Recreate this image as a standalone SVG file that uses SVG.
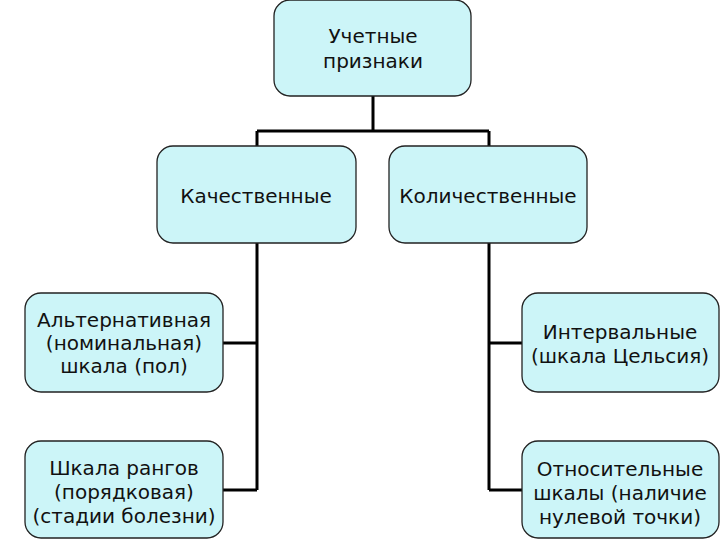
<svg xmlns="http://www.w3.org/2000/svg" width="720" height="540" viewBox="0 0 720 540">
<style>
.box{fill:#ccf5f8;stroke:#222;stroke-width:1.3}
.lbl{font-family:"DejaVu Sans",Verdana,sans-serif;font-size:20px;fill:#111;text-anchor:middle}
.con{fill:none;stroke:#000;stroke-width:3}
</style>
<rect width="720" height="540" fill="#fff"/>
<g id="connectors">
<path class="con" d="M373 96V131M257 131H489M257 131V146M489 131V146"/>
<path class="con" d="M257 243V490M222 343H257M222 490H257"/>
<path class="con" d="M489 243V490M489 343H522M489 490H522"/>
</g>
<g id="n-root">
<rect class="box" x="274" y="0" width="197" height="96" rx="16"/>
<text class="lbl" x="373" y="43">Учетные</text>
<text class="lbl" x="373" y="68">признаки</text>
</g>
<g id="n-qual">
<rect class="box" x="157" y="146" width="199" height="97" rx="16"/>
<text class="lbl" x="256" y="203">Качественные</text>
</g>
<g id="n-quant">
<rect class="box" x="389" y="146" width="198" height="97" rx="16"/>
<text class="lbl" x="488" y="203">Количественные</text>
</g>
<g id="n-alt">
<rect class="box" x="25" y="293" width="198" height="99" rx="16"/>
<text class="lbl" x="124" y="327">Альтернативная</text>
<text class="lbl" x="124" y="350">(номинальная)</text>
<text class="lbl" x="124" y="373">шкала (пол)</text>
</g>
<g id="n-rank">
<rect class="box" x="25" y="441" width="198" height="97" rx="16"/>
<text class="lbl" x="124" y="475">Шкала рангов</text>
<text class="lbl" x="124" y="499">(порядковая)</text>
<text class="lbl" x="124" y="523">(стадии болезни)</text>
</g>
<g id="n-int">
<rect class="box" x="522" y="293" width="197" height="99" rx="16"/>
<text class="lbl" x="620" y="339">Интервальные</text>
<text class="lbl" x="620" y="363">(шкала Цельсия)</text>
</g>
<g id="n-rel">
<rect class="box" x="522" y="441" width="197" height="97" rx="16"/>
<text class="lbl" x="620" y="476">Относительные</text>
<text class="lbl" x="620" y="500">шкалы (наличие</text>
<text class="lbl" x="620" y="524">нулевой точки)</text>
</g>
</svg>
